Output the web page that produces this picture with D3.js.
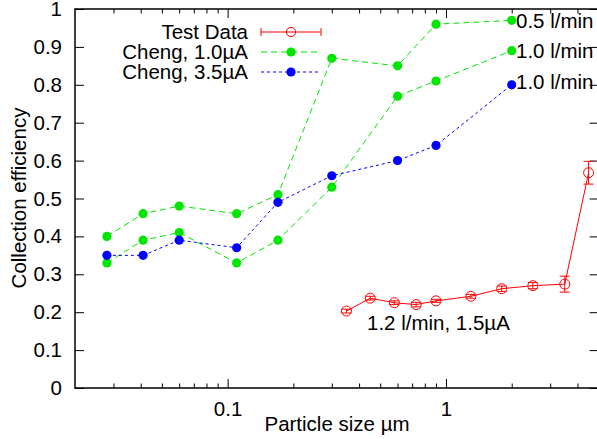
<!DOCTYPE html>
<html lang="en">
<head>
  <meta charset="utf-8"/>
  <title>Collection efficiency vs particle size</title>
  <script src="https://cdnjs.cloudflare.com/ajax/libs/d3/7.8.5/d3.min.js"></script>
  <style>
    html, body { margin: 0; padding: 0; background: #fff; }
    svg { display: block; font-family: "Liberation Sans", Arial, Helvetica, sans-serif; }
    .axis path { display: none; }
    .axis line { stroke: #000; stroke-width: 1; }
    .axis text { font-size: 20.5px; fill: #000; font-family: "Liberation Sans", Arial, sans-serif; }
  </style>
</head>
<body>
<svg width="597" height="439"></svg>
<script>
  // particle sizes (um) used by Cheng's data
  var chengSizes = [0.028, 0.041, 0.06, 0.11, 0.17, 0.3, 0.6, 0.9, 2.0];
  var cheng10_05 = [0.40, 0.46, 0.48, 0.46, 0.51, 0.87, 0.85, 0.96, 0.97];
  var cheng10_10 = [0.33, 0.39, 0.41, 0.33, 0.39, 0.53, 0.77, 0.81, 0.89];
  var cheng35_10 = [0.35, 0.35, 0.39, 0.37, 0.49, 0.56, 0.60, 0.64, 0.80];

  // test data
  var testSizes = [0.35, 0.45, 0.58, 0.73, 0.9, 1.3, 1.8, 2.5, 3.5, 4.5];
  var testEff   = [0.203, 0.237, 0.225, 0.22, 0.23, 0.242, 0.262, 0.27, 0.274, 0.568];
  var testErr   = [0.005, 0.005, 0.005, 0.006, 0.004, 0.005, 0.007, 0.008, 0.021, 0.03];

  var xMajor = [0.1, 1];
  var xMinor = [0.03, 0.04, 0.05, 0.06, 0.07, 0.08, 0.09, 0.2, 0.3, 0.4, 0.5, 0.6, 0.7, 0.8, 0.9, 2, 3, 4, 5];
  var yTicks = [0, 0.1, 0.2, 0.3, 0.4, 0.5, 0.6, 0.7, 0.8, 0.9, 1];

  var plotL = 75, plotT = 9, plotR = 598.6, plotB = 388;
  var fs = 20.5;
  var svg = d3.select("svg");

  var x = d3.scaleLog().domain([0.02, 5]).range([plotL, plotR]);
  var y = d3.scaleLinear().domain([0, 1]).range([plotB, plotT]);

  var green = "#00e600", blue = "#0000ff", red = "#ff0000";

  // axes (ticks point inward, gnuplot style)
  svg.append("g").attr("class", "axis").attr("transform", "translate(0," + plotB + ")")
    .call(d3.axisBottom(x).tickValues(xMajor).tickSize(-9).tickSizeOuter(0).tickPadding(13)
      .tickFormat(function(d) { return d === 1 ? "1" : "0.1"; }));
  svg.append("g").attr("class", "axis").attr("transform", "translate(0," + plotB + ")")
    .call(d3.axisBottom(x).tickValues(xMinor).tickSize(-4.5).tickSizeOuter(0).tickFormat(""));
  svg.append("g").attr("class", "axis").attr("transform", "translate(0," + plotT + ")")
    .call(d3.axisTop(x).tickValues(xMajor).tickSize(-9).tickSizeOuter(0).tickFormat(""));
  svg.append("g").attr("class", "axis").attr("transform", "translate(0," + plotT + ")")
    .call(d3.axisTop(x).tickValues(xMinor).tickSize(-4.5).tickSizeOuter(0).tickFormat(""));
  svg.append("g").attr("class", "axis").attr("transform", "translate(" + plotL + ",0)")
    .call(d3.axisLeft(y).tickValues(yTicks).tickSize(-9).tickSizeOuter(0).tickPadding(13)
      .tickFormat(function(d) { return d === 0 ? "0" : d === 1 ? "1" : d3.format(".1f")(d); }));
  svg.append("g").attr("class", "axis").attr("transform", "translate(" + plotR + ",0)")
    .call(d3.axisRight(y).tickValues(yTicks).tickSize(-9).tickSizeOuter(0).tickFormat(""));

  svg.append("rect")
    .attr("x", plotL).attr("y", plotT)
    .attr("width", plotR - plotL).attr("height", plotB - plotT)
    .attr("fill", "none").attr("stroke", "#000").attr("stroke-width", 1.5);

  // axis titles
  svg.append("text")
    .attr("x", 337).attr("y", 431)
    .attr("text-anchor", "middle").attr("font-size", fs)
    .text("Particle size \u00b5m");
  svg.append("text")
    .attr("transform", "translate(26,198) rotate(-90)")
    .attr("text-anchor", "middle").attr("font-size", fs)
    .text("Collection efficiency");

  var line = d3.line().x(function(d) { return x(d[0]); }).y(function(d) { return y(d[1]); });

  function chengSeries(vals, color, dash) {
    var pts = chengSizes.map(function(s, i) { return [s, vals[i]]; });
    svg.append("path").datum(pts)
      .attr("d", line).attr("fill", "none")
      .attr("stroke", color).attr("stroke-width", 1).attr("stroke-dasharray", dash);
    svg.append("g").selectAll("circle").data(pts).enter().append("circle")
      .attr("cx", function(d) { return x(d[0]); })
      .attr("cy", function(d) { return y(d[1]); })
      .attr("r", 4.6).attr("fill", color);
  }

  chengSeries(cheng10_05, green, "6,4");
  chengSeries(cheng10_10, green, "6,4");
  chengSeries(cheng35_10, blue, "3,3");

  // test data with error bars
  var test = testSizes.map(function(s, i) { return [s, testEff[i], testErr[i]]; });
  svg.append("path").datum(test)
    .attr("d", line).attr("fill", "none").attr("stroke", red).attr("stroke-width", 1);
  var eb = svg.append("g").attr("stroke", red).attr("stroke-width", 1).attr("fill", "none")
    .selectAll("g").data(test).enter().append("g");
  eb.append("line")
    .attr("x1", function(d) { return x(d[0]); }).attr("x2", function(d) { return x(d[0]); })
    .attr("y1", function(d) { return y(d[1] - d[2]); }).attr("y2", function(d) { return y(d[1] + d[2]); });
  eb.append("line")
    .attr("x1", function(d) { return x(d[0]) - 5; }).attr("x2", function(d) { return x(d[0]) + 5; })
    .attr("y1", function(d) { return y(d[1] - d[2]); }).attr("y2", function(d) { return y(d[1] - d[2]); });
  eb.append("line")
    .attr("x1", function(d) { return x(d[0]) - 5; }).attr("x2", function(d) { return x(d[0]) + 5; })
    .attr("y1", function(d) { return y(d[1] + d[2]); }).attr("y2", function(d) { return y(d[1] + d[2]); });
  eb.append("circle")
    .attr("cx", function(d) { return x(d[0]); }).attr("cy", function(d) { return y(d[1]); })
    .attr("r", 5);

  // annotations
  var notes = [["0.5 l/min", 28], ["1.0 l/min", 58], ["1.0 l/min", 89]];
  notes.forEach(function(n) {
    svg.append("text").attr("x", 516).attr("y", n[1]).attr("font-size", fs).text(n[0]);
  });
  svg.append("text").attr("x", 367).attr("y", 330).attr("font-size", fs).text("1.2 l/min, 1.5\u00b5A");

  // legend
  var legend = [
    { label: "Test Data", color: red, dash: null, y: 32 },
    { label: "Cheng, 1.0\u00b5A", color: green, dash: "6,4", y: 52 },
    { label: "Cheng, 3.5\u00b5A", color: blue, dash: "3,3", y: 72 }
  ];
  legend.forEach(function(l) {
    svg.append("text").attr("x", 248).attr("y", l.y + 7)
      .attr("text-anchor", "end").attr("font-size", fs).text(l.label);
    svg.append("line").attr("x1", 261).attr("x2", 321).attr("y1", l.y).attr("y2", l.y)
      .attr("stroke", l.color).attr("stroke-width", 1).attr("stroke-dasharray", l.dash);
    if (l.dash === null) {
      svg.append("line").attr("x1", 261).attr("x2", 261).attr("y1", l.y - 4).attr("y2", l.y + 4).attr("stroke", l.color);
      svg.append("line").attr("x1", 321).attr("x2", 321).attr("y1", l.y - 4).attr("y2", l.y + 4).attr("stroke", l.color);
      svg.append("circle").attr("cx", 291).attr("cy", l.y).attr("r", 4.6)
        .attr("fill", "none").attr("stroke", l.color);
    } else {
      svg.append("circle").attr("cx", 291).attr("cy", l.y).attr("r", 4.6).attr("fill", l.color);
    }
  });
</script>
</body>
</html>
